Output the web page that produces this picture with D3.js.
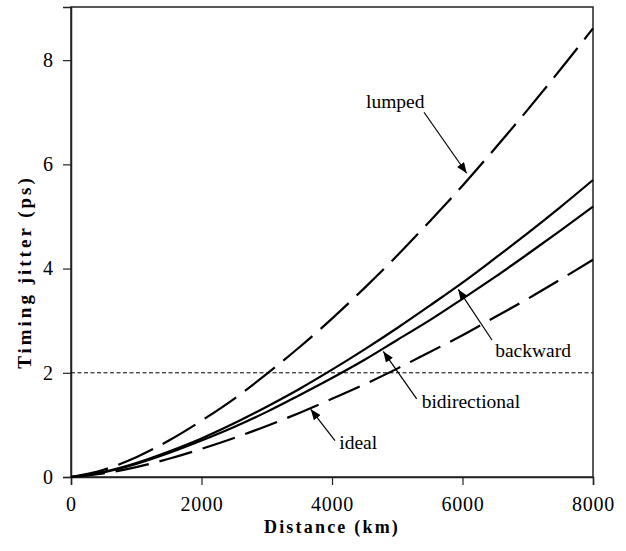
<!DOCTYPE html>
<html>
<head>
<meta charset="utf-8">
<script src="https://cdn.jsdelivr.net/npm/d3@7"></script>
<style>
  body { margin: 0; background: #fff; }
  svg text { font-family: "Liberation Serif", "DejaVu Serif", serif; fill: #000; }
  .tickLabel { font-size: 20px; }
  .axisTitle { font-size: 18px; font-weight: bold; }
  .note { font-size: 19.5px; }
</style>
</head>
<body>
<svg id="chart" width="626" height="551" font-family="Liberation Serif, serif"></svg>
<script>
"use strict";

const width = 626;
const height = 551;
const margin = { top: 7, left: 71, right: 33, bottom: 74 };
const innerWidth = width - margin.left - margin.right;
const innerHeight = height - margin.top - margin.bottom;

// distances in km
const distance = [0, 500, 1000, 1500, 2000, 2500, 3000, 3500, 4000, 4500, 5000, 5500, 6000, 6500, 7000, 7500, 8000];
// timing jitter in ps
const lumped = [0, 0.14, 0.38, 0.70, 1.08, 1.50, 1.98, 2.49, 3.04, 3.63, 4.25, 4.91, 5.59, 6.31, 7.05, 7.82, 8.61];
const backward = [0, 0.10, 0.27, 0.49, 0.74, 1.03, 1.35, 1.69, 2.06, 2.45, 2.86, 3.29, 3.73, 4.20, 4.68, 5.18, 5.70];
const bidirectional = [0, 0.09, 0.25, 0.46, 0.70, 0.96, 1.25, 1.57, 1.90, 2.25, 2.63, 3.01, 3.42, 3.84, 4.28, 4.73, 5.19];
const ideal = [0, 0.07, 0.19, 0.35, 0.54, 0.75, 0.98, 1.23, 1.50, 1.78, 2.08, 2.40, 2.72, 3.07, 3.42, 3.79, 4.17];
const threshold = 2;

const xTicks = [0, 2000, 4000, 6000, 8000];
const yTicks = [0, 2, 4, 6, 8];

// label text, where the arrow points, where it starts, where the label sits
const notes = [
    { text: "lumped", at: [6064, 5.83], from: [5410, 7.0], pos: [4521, 7.08] },
    { text: "backward", at: [5935, 3.6], from: [6452, 2.63], pos: [6500, 2.3] },
    { text: "bidirectional", at: [4786, 2.41], from: [5298, 1.5], pos: [5374, 1.32] },
    { text: "ideal", at: [3674, 1.3], from: [4046, 0.7], pos: [4112, 0.53] }
];

const svg = d3.select("svg#chart");

svg.append("defs").append("marker")
    .attr("id", "head")
    .attr("viewBox", "0 0 10 8")
    .attr("refX", 10)
    .attr("refY", 4)
    .attr("markerWidth", 11)
    .attr("markerHeight", 8.5)
    .attr("markerUnits", "userSpaceOnUse")
    .attr("orient", "auto")
    .append("path")
    .attr("d", "M0,0L10,4L0,8Z")
    .attr("fill", "#000");

const plot = svg.append("g")
    .attr("transform", `translate(${margin.left},${margin.top})`);

const xScale = d3.scaleLinear().domain([0, 8000]).range([0, innerWidth]);
const yScale = d3.scaleLinear().domain([0, 9.02]).range([innerHeight, 0]);

// frame
plot.append("rect")
    .attr("width", innerWidth)
    .attr("height", innerHeight)
    .attr("fill", "none")
    .attr("stroke", "#222")
    .attr("stroke-width", 1.5);

// axes
let xAxis = plot.append("g")
    .attr("transform", `translate(0,${innerHeight})`)
    .call(d3.axisBottom(xScale).tickValues(xTicks).tickSize(8).tickPadding(12).tickFormat(d3.format("d")));
let yAxis = plot.append("g")
    .call(d3.axisLeft(yScale).tickValues(yTicks).tickSize(8).tickPadding(10).tickFormat(d3.format("d")));

[xAxis, yAxis].forEach(ax => {
    ax.attr("font-family", null).attr("font-size", null);
    ax.select(".domain").attr("stroke", "#222").attr("stroke-width", 1.5);
    ax.selectAll(".tick line").attr("stroke", "#222").attr("stroke-width", 1.2);
    ax.selectAll(".tick text")
        .attr("class", "tickLabel")
        .attr("fill", "#000");
});
xAxis.selectAll(".tick text").attr("letter-spacing", "0.8px");

// dotted reference line
plot.append("line")
    .attr("x1", 0)
    .attr("x2", innerWidth)
    .attr("y1", yScale(threshold))
    .attr("y2", yScale(threshold))
    .attr("stroke", "#000")
    .attr("stroke-width", 1)
    .attr("stroke-dasharray", "4 2.5");

const line = d3.line()
    .x(d => xScale(d[0]))
    .y(d => yScale(d[1]))
    .curve(d3.curveMonotoneX);

const series = [
    { values: lumped, dash: "38 11" },
    { values: backward, dash: null },
    { values: bidirectional, dash: null },
    { values: ideal, dash: "34 11" }
];

plot.selectAll("path.curve")
    .data(series)
    .enter()
    .append("path")
    .attr("class", "curve")
    .attr("d", s => line(distance.map((d, i) => [d, s.values[i]])))
    .attr("fill", "none")
    .attr("stroke", "#000")
    .attr("stroke-width", 2.2)
    .attr("stroke-dasharray", s => s.dash);

// annotations
plot.selectAll("line.arrow")
    .data(notes)
    .enter()
    .append("line")
    .attr("class", "arrow")
    .attr("x1", d => xScale(d.from[0]))
    .attr("y1", d => yScale(d.from[1]))
    .attr("x2", d => xScale(d.at[0]))
    .attr("y2", d => yScale(d.at[1]))
    .attr("stroke", "#000")
    .attr("stroke-width", 1.2)
    .attr("marker-end", "url(#head)");

plot.selectAll("text.note")
    .data(notes)
    .enter()
    .append("text")
    .attr("class", "note")
    .attr("x", d => xScale(d.pos[0]))
    .attr("y", d => yScale(d.pos[1]))
    .text(d => d.text);

// titles
svg.append("text")
    .attr("class", "axisTitle")
    .attr("x", margin.left + innerWidth / 2)
    .attr("y", 533)
    .attr("text-anchor", "middle")
    .attr("letter-spacing", "2.2px")
    .text("Distance (km)");

svg.append("text")
    .attr("class", "axisTitle")
    .attr("transform", `translate(31,272) rotate(-90)`)
    .attr("text-anchor", "middle")
    .attr("font-size", "19px")
    .style("font-size", "19px")
    .attr("letter-spacing", "3px")
    .text("Timing jitter (ps)");
</script>
</body>
</html>
